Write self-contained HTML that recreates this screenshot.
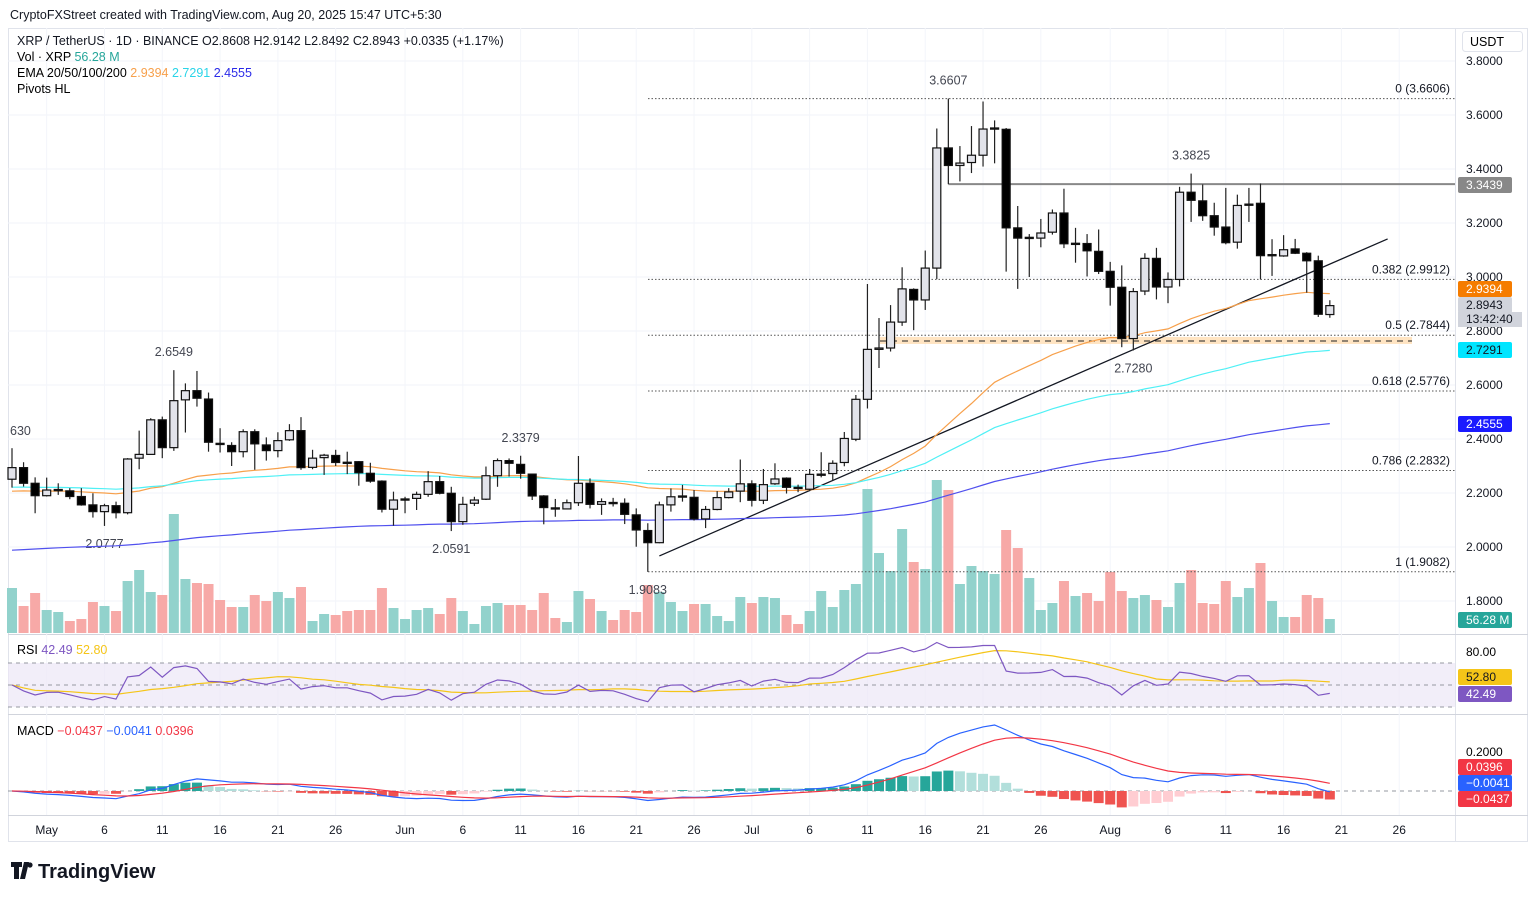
<!DOCTYPE html>
<html><head><meta charset="utf-8">
<style>
body{margin:0;background:#fff;font-family:"Liberation Sans",sans-serif;color:#131722;}
#wrap{position:relative;width:1536px;height:899px;overflow:hidden;background:#fff;}
svg text{font-family:"Liberation Sans",sans-serif;}
</style></head>
<body>
<div id="wrap">
<svg id="chart" width="1536" height="899" viewBox="0 0 1536 899" xmlns="http://www.w3.org/2000/svg">
<text x="10" y="19" font-size="12.5" fill="#131722">CryptoFXStreet created with TradingView.com, Aug 20, 2025 15:47 UTC+5:30</text>
<rect x="8.5" y="28.5" width="1519" height="813" fill="none" stroke="#e0e3eb"/>
<line x1="1455.5" y1="28" x2="1455.5" y2="842" stroke="#e0e3eb"/>
<line x1="8" y1="634.5" x2="1528" y2="634.5" stroke="#d1d4dc"/>
<line x1="8" y1="714.5" x2="1528" y2="714.5" stroke="#d1d4dc"/>
<line x1="8" y1="815.5" x2="1528" y2="815.5" stroke="#d1d4dc"/>
<g id="grid"></g>
<g id="vol"></g>
<g id="ann"></g>
<g id="ema"></g>
<g id="candles"></g>
<g id="rsi"></g>
<g id="macd"></g>
<g id="axis"></g>
<g font-size="12.5">
<text x="17" y="45" fill="#131722">XRP / TetherUS · 1D · BINANCE  O<tspan fill="#131722">2.8608</tspan> H2.9142 L2.8492 C2.8943 +0.0335 (+1.17%)</text>
<text x="17" y="61">Vol · XRP <tspan fill="#26a69a">56.28 M</tspan></text>
<text x="17" y="77">EMA 20/50/100/200 <tspan fill="#f7a04b">2.9394</tspan> <tspan fill="#2ad4e8">2.7291</tspan> <tspan fill="#2a2ae8">2.4555</tspan></text>
<text x="17" y="93">Pivots HL</text>
<text x="17" y="654">RSI <tspan fill="#7e57c2">42.49</tspan> <tspan fill="#f5c518">52.80</tspan></text>
<text x="17" y="735">MACD <tspan fill="#f23645">−0.0437</tspan> <tspan fill="#2962ff">−0.0041</tspan> <tspan fill="#f23645">0.0396</tspan></text>
</g>
<rect x="1462.5" y="31.5" width="60" height="20" rx="3" fill="#fff" stroke="#e0e3eb"/>
<text x="1470" y="46" font-size="12.5">USDT</text>
<g>
<path d="M11 862h11v5h-3v12h-5v-12h-3z M24 862h5l-4 17h-5z" fill="#131722"/>
<circle cx="30" cy="865" r="2.6" fill="#131722"/>
<text x="38" y="878" font-size="20" font-weight="bold" fill="#131722">TradingView</text>
</g>
</svg>
</div>
<script>
// ---- data (day index from May 1 = 0) ----
const startDay = -3;
const opens = [2.251,2.294,2.236,2.190,2.211,2.208,2.187,2.156,2.131,2.153,2.127,2.329,2.343,2.471,2.368,2.545,2.579,2.548,2.384,2.376,2.353,2.427,2.378,2.357,2.397,2.431,2.295,2.331,2.339,2.314,2.316,2.273,2.244,2.140,2.176,2.180,2.195,2.242,2.199,2.094,2.162,2.177,2.264,2.320,2.306,2.270,2.189,2.145,2.141,2.164,2.236,2.158,2.165,2.162,2.119,2.061,2.016,2.156,2.187,2.184,2.104,2.139,2.183,2.207,2.234,2.173,2.234,2.255,2.221,2.214,2.269,2.272,2.313,2.399,2.547,2.732,2.737,2.833,2.954,2.915,3.033,3.478,3.413,3.424,3.451,3.548,3.547,3.182,3.146,3.144,3.166,3.237,3.124,3.124,3.095,3.021,2.962,2.772,2.948,3.069,2.963,2.991,3.314,3.282,3.227,3.185,3.129,3.269,3.273,3.082,3.078,3.104,3.088,3.060,2.861];
const highs = [2.366,2.314,2.258,2.257,2.236,2.218,2.218,2.199,2.160,2.168,2.329,2.431,2.477,2.483,2.655,2.606,2.652,2.572,2.440,2.388,2.436,2.436,2.406,2.425,2.455,2.481,2.360,2.345,2.360,2.353,2.318,2.312,2.247,2.205,2.186,2.205,2.281,2.263,2.223,2.186,2.186,2.298,2.328,2.328,2.338,2.272,2.192,2.178,2.176,2.337,2.254,2.180,2.182,2.180,2.143,2.088,2.168,2.217,2.230,2.211,2.152,2.207,2.218,2.324,2.247,2.289,2.310,2.258,2.231,2.289,2.351,2.321,2.426,2.563,2.974,2.848,2.896,3.036,2.958,3.098,3.550,3.661,3.485,3.559,3.650,3.580,3.552,3.263,3.159,3.215,3.250,3.327,3.182,3.159,3.176,3.056,3.043,2.959,3.088,3.108,3.017,3.334,3.383,3.343,3.275,3.330,3.305,3.330,3.346,3.140,3.155,3.141,3.092,3.079,2.914];
const lows = [2.220,2.224,2.125,2.187,2.193,2.177,2.153,2.109,2.078,2.106,2.121,2.288,2.341,2.329,2.356,2.424,2.520,2.353,2.350,2.300,2.332,2.286,2.320,2.332,2.393,2.286,2.288,2.267,2.300,2.270,2.227,2.238,2.128,2.079,2.125,2.137,2.186,2.195,2.059,2.082,2.152,2.174,2.223,2.261,2.253,2.174,2.084,2.112,2.140,2.152,2.143,2.119,2.150,2.085,2.001,1.908,2.014,2.131,2.168,2.098,2.070,2.136,2.180,2.166,2.150,2.159,2.230,2.198,2.203,2.207,2.258,2.248,2.299,2.392,2.513,2.663,2.724,2.819,2.803,2.878,2.992,3.344,3.354,3.385,3.409,3.421,3.020,2.956,3.000,3.110,3.157,3.107,3.053,3.002,3.011,2.894,2.740,2.728,2.933,2.917,2.903,2.965,3.204,3.208,3.153,3.121,3.105,3.204,2.991,3.004,3.075,3.085,2.942,2.852,2.849];
const closes = [2.294,2.236,2.190,2.211,2.213,2.187,2.156,2.131,2.153,2.127,2.326,2.343,2.471,2.368,2.542,2.579,2.551,2.388,2.381,2.353,2.427,2.382,2.357,2.394,2.431,2.294,2.329,2.340,2.313,2.313,2.275,2.244,2.140,2.174,2.178,2.195,2.242,2.199,2.094,2.158,2.174,2.264,2.320,2.310,2.273,2.189,2.146,2.141,2.164,2.236,2.158,2.168,2.164,2.121,2.063,2.016,2.156,2.186,2.189,2.104,2.139,2.183,2.204,2.234,2.173,2.231,2.252,2.221,2.219,2.269,2.270,2.310,2.402,2.547,2.732,2.737,2.833,2.956,2.915,3.033,3.478,3.413,3.422,3.451,3.548,3.552,3.182,3.144,3.147,3.163,3.237,3.123,3.125,3.097,3.021,2.962,2.772,2.946,3.069,2.963,2.991,3.314,3.284,3.227,3.185,3.127,3.265,3.270,3.079,3.083,3.101,3.088,3.060,2.862,2.894];
const volumes = [180,108,160,92,84,48,56,124,108,88,208,252,164,152,476,216,200,196,132,104,104,152,128,164,140,184,48,76,72,88,92,92,180,100,56,92,100,76,140,88,36,108,120,112,112,92,160,60,44,168,136,88,52,92,84,192,164,124,88,116,116,68,48,144,120,144,140,72,36,88,168,104,172,196,576,320,248,416,284,256,612,572,196,268,248,236,412,340,220,92,120,208,148,160,128,244,168,140,152,132,104,200,252,120,116,208,144,180,280,128,64,64,152,140,56];
const priceTicks = ["3.8000","3.6000","3.4000","3.2000","3.0000","2.8000","2.6000","2.4000","2.2000","2.0000","1.8000"];
const fibLevels = [3.6606,2.9912,2.7844,2.5776,2.2832,1.9082];
const fibNames = ["0","0.382","0.5","0.618","0.786","1"];
const timeLabels = ["May","6","11","16","21","26","Jun","6","11","16","21","26","Jul","6","11","16","21","26","Aug","6","11","16","21","26"];
const timeDays = [0,5,10,15,20,25,31,36,41,46,51,56,61,66,71,76,81,86,92,97,102,107,112,117];
const pivotVals = ["2.6549","2.0777","2.3379","2.0591","1.9083","3.6607","3.3825","2.7280"];
const pivotDays = [11,5,41,35,52,78,99,94];
const pivotIsHigh = [1,0,1,0,0,1,1,0];

// ---- scales ----
const X = d => 12 + (d - startDay) * 11.56;
const Y = p => 61 + (3.8 - p) * 270;
const VY = v => 633 - v * 0.25;
const RY = r => 663 + (70 - r) * 1.1;
const MY = m => 791 - m * 195;
const NS = "http://www.w3.org/2000/svg";
function mk(parent, tag, attrs){const e=document.createElementNS(NS,tag);for(const k in attrs)e.setAttribute(k,attrs[k]);parent.appendChild(e);return e;}
const $ = id => document.getElementById(id);
const n = closes.length;

// grid + price ticks
priceTicks.forEach(t=>{
  const y=Y(parseFloat(t));
  const g=mk($('grid'),'line',{x1:8,x2:1455,y1:y,y2:y,stroke:'#f0f3fa'});
  
  
  const tx=mk($('axis'),'text',{x:1466,y:y+4,'font-size':12,fill:'#131722'});
  tx.textContent=t;
  
  
});
timeDays.forEach((d,i)=>{
  const x=X(d);
  const g=mk($('grid'),'line',{x1:x,x2:x,y1:28,y2:815,stroke:'#f3f5fa'});
  
  
  const tx=mk($('axis'),'text',{x:x,y:834,'font-size':12,fill:'#131722','text-anchor':'middle'});
  tx.textContent=timeLabels[i];
  
  
});

// volume
for(let i=0;i<n;i++){
  const up=closes[i]>=opens[i];
  const r=mk($('vol'),'rect',{x:X(startDay+i)-5,y:VY(volumes[i]),width:10,height:633-VY(volumes[i]),fill:up?'#92d2cc':'#f7a9a7'});
  
  
}

// annotations: fib, resistance, zone, trendline
fibLevels.forEach((p,i)=>{
  const y=Y(p);
  const l=mk($('ann'),'line',{x1:648,x2:1455,y1:y,y2:y,stroke:'#555','stroke-dasharray':'1.5 2','stroke-width':1});
  
  
  const t=mk($('ann'),'text',{x:1450,y:y-6,'font-size':12,fill:'#131722','text-anchor':'end'});
  t.textContent=fibNames[i]+' ('+p.toFixed(4)+')';
  
  
});
const zoneTop=2.778, zoneBot=2.752, zoneMid=2.763;
let z=mk($('ann'),'rect',{x:880,y:Y(zoneTop),width:532,height:Y(zoneBot)-Y(zoneTop),fill:'#ffe4c2'});


z=mk($('ann'),'line',{x1:880,x2:1412,y1:Y(zoneMid),y2:Y(zoneMid),stroke:'#222','stroke-dasharray':'6 5'});


const resPrice=3.3439;
z=mk($('ann'),'line',{x1:X(78),x2:1455,y1:Y(resPrice),y2:Y(resPrice),stroke:'#888','stroke-width':2});


z=mk($('ann'),'line',{x1:X(78),x2:X(78),y1:Y(3.6607),y2:Y(resPrice),stroke:'#888','stroke-width':1});


const trendD=[53,116], trendP=[1.967,3.141];
z=mk($('ann'),'line',{x1:X(trendD[0]),y1:Y(trendP[0]),x2:X(trendD[1]),y2:Y(trendP[1]),stroke:'#131722','stroke-width':1.3});


// pivots
pivotVals.forEach((v,i)=>{
  const p=parseFloat(v), x=X(pivotDays[i]);
  const y=pivotIsHigh[i]?Y(p)-14:Y(p)+22;
  const t=mk($('ann'),'text',{x:x,y:y,'font-size':12.5,fill:'#434651','text-anchor':'middle'});
  t.textContent=v;
  
  
});
let pc=mk($('ann'),'text',{x:10,y:435,'font-size':12.5,fill:'#434651'});
pc.textContent='630';



// EMAs
function ema(arr,len,seed){const a=2/(len+1);let e=seed;return arr.map(v=>(e=e+(v-e)*a));}
const emaSpecs=[[50,2.203,'#f7a04b'],[100,2.22,'#4ff0f5'],[200,1.985,'#5050ee']];
emaSpecs.forEach(s=>{
  const vals=ema(closes,s[0],s[1]);
  const d=vals.map((v,i)=>(i?'L':'M')+X(startDay+i).toFixed(1)+' '+Y(v).toFixed(1)).join(' ');
  const p=mk($('ema'),'path',{d:d,fill:'none',stroke:s[2],'stroke-width':1.2});
  
  
});

// candles
for(let i=0;i<n;i++){
  const x=X(startDay+i), up=closes[i]>=opens[i];
  const w=mk($('candles'),'line',{x1:x,x2:x,y1:Y(highs[i]),y2:Y(lows[i]),stroke:'#222','stroke-width':1.2});
  
  
  const top=Y(Math.max(opens[i],closes[i])), bot=Y(Math.min(opens[i],closes[i]));
  const b=mk($('candles'),'rect',{x:x-4,y:top,width:8,height:Math.max(1.2,bot-top),fill:up?'#e2e3ea':'#000',stroke:'#111','stroke-width':1.2});
  
  
}

// RSI
(function(){
  const g=$('rsi');
  let r=mk(g,'rect',{x:8,y:RY(70),width:1447,height:RY(30)-RY(70),fill:'#ede7f6',opacity:0.7});
  
  
  [70,50,30].forEach(v=>{const l=mk(g,'line',{x1:8,x2:1455,y1:RY(v),y2:RY(v),stroke:'#9598a1','stroke-dasharray':'4 4'});
    
    });
  let ag=0.02, al=0.02; const rsi=[];
  for(let i=0;i<n;i++){const ch=i?closes[i]-closes[i-1]:0;ag=(ag*13+Math.max(ch,0))/14;al=(al*13+Math.max(-ch,0))/14;rsi.push(100-100/(1+ag/al));}
  const ma=rsi.map((v,i)=>{const s=rsi.slice(Math.max(0,i-13),i+1);return s.reduce((a,b)=>a+b,0)/s.length;});
  let p=mk(g,'path',{d:ma.map((v,i)=>(i?'L':'M')+X(startDay+i).toFixed(1)+' '+RY(v).toFixed(1)).join(' '),fill:'none',stroke:'#f5c518','stroke-width':1.2});
  
  
  p=mk(g,'path',{d:rsi.map((v,i)=>(i?'L':'M')+X(startDay+i).toFixed(1)+' '+RY(v).toFixed(1)).join(' '),fill:'none',stroke:'#7e57c2','stroke-width':1.2});
  
  
  const t=mk($('axis'),'text',{x:1466,y:656,'font-size':12});t.textContent='80.00';
  
  
})();

// MACD
(function(){
  const g=$('macd');
  const e12=ema(closes,12,closes[0]), e26=ema(closes,26,closes[0]);
  const m=e12.map((v,i)=>v-e26[i]); const sig=ema(m,9,0);
  let l=mk(g,'line',{x1:8,x2:1455,y1:MY(0),y2:MY(0),stroke:'#9598a1','stroke-dasharray':'4 4'});
  
  
  for(let i=0;i<n;i++){const h=m[i]-sig[i];const prev=i?m[i-1]-sig[i-1]:0;
    const col=h>=0?(h>=prev?'#26a69a':'#b2dfdb'):(h<prev?'#ef5350':'#ffcdd2');
    const r=mk(g,'rect',{x:X(startDay+i)-5,y:Math.min(MY(0),MY(h)),width:10,height:Math.abs(MY(h)-MY(0)),fill:col});
    
    }
  let p=mk(g,'path',{d:m.map((v,i)=>(i?'L':'M')+X(startDay+i).toFixed(1)+' '+MY(v).toFixed(1)).join(' '),fill:'none',stroke:'#2962ff','stroke-width':1.2});
  
  
  p=mk(g,'path',{d:sig.map((v,i)=>(i?'L':'M')+X(startDay+i).toFixed(1)+' '+MY(v).toFixed(1)).join(' '),fill:'none',stroke:'#f23645','stroke-width':1.2});
  
  
  const t=mk($('axis'),'text',{x:1466,y:756,'font-size':12});t.textContent='0.2000';
  
  
})();

// price axis badges
const badgeText=["3.3439","2.9394","2.8943","2.7291","2.4555","56.28 M","52.80","42.49","0.0396","−0.0041","−0.0437"];
const badgeY=[185,289,305,350,424,620,677,694,767,783,799];
const badgeBg=["#888","#f57c00","#d1d4dc","#00e5ff","#1a1aff","#26a69a","#f5c518","#7e57c2","#f23645","#2962ff","#f23645"];
const badgeFg=["#fff","#fff","#131722","#131722","#fff","#fff","#131722","#fff","#fff","#fff","#fff"];
badgeText.forEach((t,i)=>{
  const r=mk($('axis'),'rect',{x:1458,y:badgeY[i]-8,width:54,height:16,rx:2,fill:badgeBg[i]});
  
  
  const tx=mk($('axis'),'text',{x:1466,y:badgeY[i]+4,'font-size':12,fill:badgeFg[i]});
  tx.textContent=t;
  
  
});
let cd=mk($('axis'),'rect',{x:1458,y:312,width:64,height:15,fill:'#d1d4dc'});


cd=mk($('axis'),'text',{x:1466,y:323,'font-size':12,fill:'#131722'});
cd.textContent='13:42:40';


</script>
</body></html>
